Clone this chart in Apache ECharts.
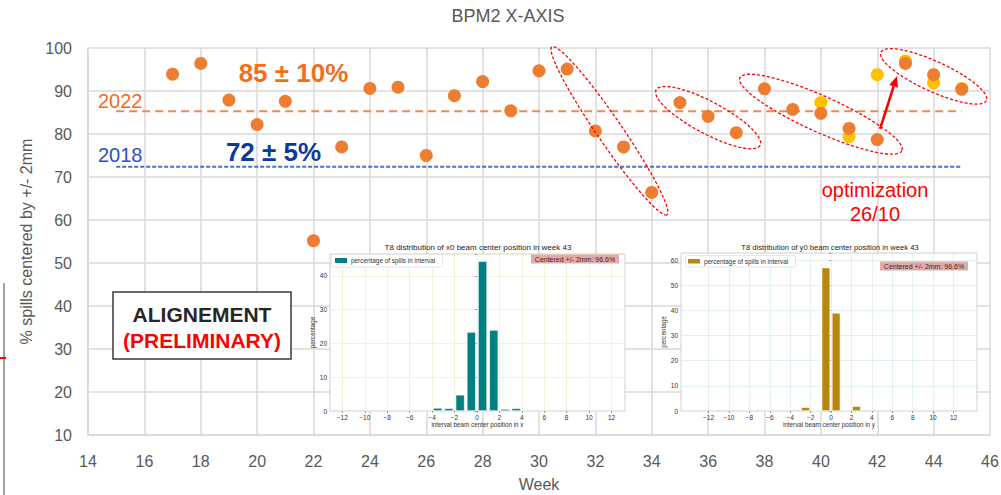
<!DOCTYPE html>
<html>
<head>
<meta charset="utf-8">
<script src="https://cdn.jsdelivr.net/npm/echarts@6/dist/echarts.min.js"></script>
<style>
  html, body { margin: 0; padding: 0; background: #fff; }
  #chart { width: 1001px; height: 495px; }
</style>
</head>
<body>
<div id="chart"></div>
<script>
// ---- Weekly share of spills centred within +/- 2 mm (BPM2, horizontal plane) ----
const weeks = [17, 18, 19, 20, 21, 22, 23, 24, 25, 26, 27, 28, 29, 30, 31,
               32, 33, 34, 35, 36, 37, 38, 39, 40, 41, 42, 43, 44, 45];
const centeredPct = [93.9, 96.4, 87.9, 82.2, 87.6, 55.2, 77.0, 90.6, 90.9, 75.0, 88.9, 92.2, 85.4, 94.7, 95.1,
                     80.7, 77.0, 66.4, 87.3, 84.1, 80.3, 90.5, 85.7, 84.8, 81.3, 78.7, 96.4, 93.8, 90.4];
// second set of measurements for the late weeks
const altWeeks = [40, 41, 42, 43, 44, 45];
const altPct = [87.3, 79.4, 93.8, 97.0, 91.9, 90.6];

// yearly averages drawn as dashed reference lines
const avg2022 = 85.3;
const avg2018 = 72.4;
const refWeeks = [15, 45];

// runs of weeks circled as groups, and the optimisation arrow (week, %)
const weekGroups = [[31, 34], [35, 37], [38, 42], [43, 45]];
const arrowFrom = [42.1, 81.2];
const arrowTo = [42.7, 93.5];

// ---- Week 43 beam-centre distributions (1 mm bins) ----
const xBinCenters = [-3.5, -2.5, -1.5, -0.5, 0.5, 1.5, 2.5, 3.5];
const xBinPct = [0.9, 0.8, 4.8, 23.4, 44.4, 24.0, 0.6, 0.8];
const yBinCenters = [-2.5, -1.5, -0.5, 0.5, 1.5, 2.5];
const yBinPct = [1.5, 0.3, 57.0, 39.0, 0.3, 1.9];
const histTicks = [-12, -10, -8, -6, -4, -2, 0, 2, 4, 6, 8, 10, 12];

const FONT = '"Liberation Sans", Arial, sans-serif';
const GRID_GRAY = '#D9D9D9';
const TEXT_GRAY = '#595959';

const chart = echarts.init(document.getElementById('chart'), null, { renderer: 'svg' });

function minusSign(v) { return String(v).replace('-', '\u2212'); }

function insetXAxis(gridIndex, min, max, name) {
  return {
    type: 'value', gridIndex, min, max, z: 4,
    name, nameLocation: 'middle', nameGap: 8,
    nameTextStyle: { fontSize: 6.3, color: '#333', fontFamily: FONT },
    axisLine: { show: false },
    axisTick: { show: true, length: 2, customValues: histTicks, lineStyle: { color: '#666', width: 0.6 } },
    axisLabel: { fontSize: 6.5, color: '#333', margin: 3, fontFamily: FONT,
                 customValues: histTicks, formatter: v => minusSign(v) },
    splitLine: { show: false }
  };
}

function insetYAxis(gridIndex, max, gridColor) {
  return {
    type: 'value', gridIndex, min: 0, max, interval: 10, z: 4,
    name: 'percentage', nameLocation: 'middle', nameGap: 11,
    nameTextStyle: { fontSize: 6.3, color: '#333', fontFamily: FONT },
    axisLine: { show: false },
    axisTick: { show: true, length: 2, lineStyle: { color: '#666', width: 0.6 } },
    axisLabel: {
      fontSize: 6.5, color: '#333', margin: 3, fontFamily: FONT,
      formatter: v => (Math.abs(v % 10) < 1e-9) ? String(v) : ''
    },
    splitLine: { show: true, lineStyle: { color: gridColor, width: 0.7 } }
  };
}

// vertical grid of a histogram, drawn under its bars
function insetVerticalGrid(axisIndex, gridColor) {
  return {
    type: 'line', xAxisIndex: axisIndex, yAxisIndex: axisIndex, z: 4, silent: true,
    data: [], symbol: 'none',
    markLine: {
      silent: true, symbol: 'none', label: { show: false },
      lineStyle: { color: gridColor, width: 0.7, type: 'solid' },
      data: histTicks.map(t => ({ xAxis: t }))
    }
  };
}

const option = {
  animation: false,
  backgroundColor: '#fff',
  textStyle: { fontFamily: FONT },
  grid: [
    { left: 88, right: 11, top: 48, bottom: 60, outerBoundsMode: 'none', containLabel: false },
    { left: 330, top: 254, width: 295, height: 157, show: true, backgroundColor: '#fff',
      borderColor: '#c4c4c4', borderWidth: 0.8, z: 3, outerBoundsMode: 'none' },
    { left: 681, top: 253, width: 296, height: 158, show: true, backgroundColor: '#fff',
      borderColor: '#c4c4c4', borderWidth: 0.8, z: 3, outerBoundsMode: 'none' }
  ],
  xAxis: [
    {
      type: 'value', gridIndex: 0, min: 14, max: 46, interval: 2,
      name: 'Week', nameLocation: 'middle', nameGap: 41,
      nameTextStyle: { fontSize: 16, color: TEXT_GRAY, fontFamily: FONT },
      axisLine: { show: true, lineStyle: { color: GRID_GRAY, width: 1.5 } },
      axisTick: { show: false },
      axisLabel: { fontSize: 16, color: TEXT_GRAY, margin: 18, fontFamily: FONT },
      splitLine: { show: true, lineStyle: { color: GRID_GRAY, width: 1.5 } }
    },
    insetXAxis(1, -13.1, 13.2, 'interval beam center position in x'),
    insetXAxis(2, -14.7, 14.3, 'interval beam center position in y')
  ],
  yAxis: [
    {
      type: 'value', gridIndex: 0, min: 10, max: 100, interval: 10,
      name: '% spills centered by +/- 2mm', nameLocation: 'middle', nameGap: 45,
      nameTextStyle: { fontSize: 16, color: TEXT_GRAY, fontFamily: FONT },
      axisLine: { show: true, lineStyle: { color: GRID_GRAY, width: 1.5 } },
      axisTick: { show: false },
      axisLabel: { fontSize: 16, color: TEXT_GRAY, margin: 16, fontFamily: FONT },
      splitLine: { show: true, lineStyle: { color: GRID_GRAY, width: 1.5 } }
    },
    insetYAxis(1, 46.5, '#EFE9C9'),
    insetYAxis(2, 62.8, '#D6EBEB')
  ],
  series: [
    {
      name: '2022 average', type: 'line', xAxisIndex: 0, yAxisIndex: 0, z: 1,
      data: refWeeks.map(w => [w, avg2022]), symbol: 'none', silent: true,
      lineStyle: { color: '#F0894A', width: 2, type: [8, 5] }
    },
    {
      name: '2018 average', type: 'line', xAxisIndex: 0, yAxisIndex: 0, z: 1,
      data: refWeeks.map(w => [w, avg2018]), symbol: 'none', silent: true,
      lineStyle: { color: '#4472C4', width: 2, type: [4, 2] }
    },
    {
      name: 'second measurement', type: 'scatter', xAxisIndex: 0, yAxisIndex: 0, z: 2,
      data: altWeeks.map((w, i) => [w, altPct[i]]), symbolSize: 13,
      itemStyle: { color: '#FFC000', opacity: 1 }
    },
    {
      name: 'centered spills', type: 'scatter', xAxisIndex: 0, yAxisIndex: 0, z: 3,
      data: weeks.map((w, i) => [w, centeredPct[i]]), symbolSize: 13,
      itemStyle: { color: '#ED7D31', opacity: 1 }
    },
    insetVerticalGrid(1, '#EFE9C9'),
    insetVerticalGrid(2, '#D6EBEB'),
    {
      name: 'percentage of spills in interval', type: 'bar', xAxisIndex: 1, yAxisIndex: 1, z: 5,
      data: xBinCenters.map((c, i) => [c, xBinPct[i]]), barWidth: 9,
      itemStyle: { color: '#008080', borderColor: '#fff', borderWidth: 0.6 }
    },
    {
      name: 'percentage of spills in interval', type: 'bar', xAxisIndex: 2, yAxisIndex: 2, z: 5,
      data: yBinCenters.map((c, i) => [c, yBinPct[i]]), barWidth: 8.5,
      itemStyle: { color: '#B8860B', borderColor: '#fff', borderWidth: 0.6 }
    }
  ]
};

chart.setOption(option);

// ---- annotations placed from data coordinates ----
const toPx = p => chart.convertToPixel({ xAxisIndex: 0, yAxisIndex: 0 }, p);

function text(x, y, str, font, fill, align, extra) {
  return Object.assign({
    type: 'text', x, y, z: 20,
    style: { text: str, font, fill, align: align || 'center', verticalAlign: 'middle',
             textAlign: align || 'center', textVerticalAlign: 'middle' }
  }, extra || {});
}

const groupRadii = [12.5, 16, 18, 15];
const ellipses = weekGroups.map((g, k) => {
  const a = toPx([g[0], centeredPct[weeks.indexOf(g[0])]]);
  const b = toPx([g[1], centeredPct[weeks.indexOf(g[1])]]);
  const dx = b[0] - a[0], dy = b[1] - a[1];
  const len = Math.hypot(dx, dy);
  const ux = dx / len, uy = dy / len;
  const vx = -uy, vy = ux;
  const cx = (a[0] + b[0]) / 2, cy = (a[1] + b[1]) / 2;
  const ra = len / 2 + 27, rb = groupRadii[k];
  const pts = [];
  for (let i = 0; i < 96; i++) {
    const t = i / 96 * Math.PI * 2;
    const ca = Math.cos(t) * ra, sb = Math.sin(t) * rb;
    pts.push([cx + ca * ux + sb * vx, cy + ca * uy + sb * vy]);
  }
  return {
    type: 'polygon', z: 15, silent: true,
    shape: { points: pts },
    style: { fill: 'none', stroke: '#FF0000', lineWidth: 1.3, lineDash: [3, 2] }
  };
});

const tail = toPx(arrowFrom), head = toPx(arrowTo);
const adx = head[0] - tail[0], ady = head[1] - tail[1];
const alen = Math.hypot(adx, ady);
const aux = adx / alen, auy = ady / alen;
const base = [head[0] - aux * 11, head[1] - auy * 11];
const arrow = [
  { type: 'line', z: 16, silent: true,
    shape: { x1: tail[0], y1: tail[1], x2: base[0], y2: base[1] },
    style: { stroke: '#FF0000', lineWidth: 2.6 } },
  { type: 'polygon', z: 16, silent: true,
    shape: { points: [head, [base[0] - auy * 4.5, base[1] + aux * 4.5], [base[0] + auy * 4.5, base[1] - aux * 4.5]] },
    style: { fill: '#FF0000' } }
];

const graphics = [
  // main title
  text(508, 16, 'BPM2 X-AXIS', '18px ' + FONT, TEXT_GRAY),
  // averages
  text(293.5, 73, '85 \u00B1 10%', 'bold 26px ' + FONT, '#F26E1F'),
  text(273.5, 152, '72 \u00B1 5%', 'bold 26px ' + FONT, '#0B3A9F'),
  text(98, 101, '2022', '20px ' + FONT, '#F26B1D', 'left'),
  text(98, 155, '2018', '20px ' + FONT, '#2A52BE', 'left'),
  // optimisation note
  text(875, 190, 'optimization', '20px ' + FONT, '#FF0000'),
  text(875, 214, '26/10', '20px ' + FONT, '#FF0000'),
  // status box
  { type: 'rect', z: 18, silent: true, shape: { x: 113, y: 292, width: 178, height: 67 },
    style: { fill: '#fff', stroke: '#3a3a3a', lineWidth: 1.5 } },
  text(202, 314, 'ALIGNEMENT', 'bold 21px ' + FONT, '#262626'),
  text(202, 340, '(PRELIMINARY)', 'bold 21px ' + FONT, '#FF0000'),
  // slide edge marker
  { type: 'line', z: 18, silent: true, shape: { x1: 4, y1: 283, x2: 4, y2: 495 },
    style: { stroke: '#8C8270', lineWidth: 1.5 } },
  { type: 'line', z: 19, silent: true, shape: { x1: 0, y1: 358, x2: 6, y2: 358 },
    style: { stroke: '#FF0000', lineWidth: 2 } },
  // histogram titles
  text(478, 247, 'T8 distribution of x0 beam center position in week 43', '8px ' + FONT, '#222'),
  text(830, 247.5, 'T8 distribution of y0 beam center position in week 43', '7.6px ' + FONT, '#222'),
  // histogram legends
  { type: 'rect', z: 18, silent: true, shape: { x: 331.5, y: 254.5, width: 111, height: 12.5, r: 1.5 },
    style: { fill: '#fff', stroke: '#dcdcdc', lineWidth: 0.7 } },
  { type: 'rect', z: 19, silent: true, shape: { x: 335, y: 258, width: 12, height: 5 },
    style: { fill: '#008080' } },
  text(351, 260.7, 'percentage of spills in interval', '6.4px ' + FONT, '#333', 'left'),
  { type: 'rect', z: 18, silent: true, shape: { x: 685.5, y: 255.5, width: 110, height: 11.5, r: 1.5 },
    style: { fill: '#fff', stroke: '#dcdcdc', lineWidth: 0.7 } },
  { type: 'rect', z: 19, silent: true, shape: { x: 688, y: 259, width: 12, height: 4.5 },
    style: { fill: '#B8860B' } },
  text(704, 261.3, 'percentage of spills in interval', '6.4px ' + FONT, '#333', 'left'),
  // centred fraction labels
  { type: 'rect', z: 18, silent: true, shape: { x: 531, y: 254.5, width: 88, height: 9 },
    style: { fill: '#E2AAAA' } },
  text(575, 259.2, 'Centered +/- 2mm: 96.6%', '7px ' + FONT, '#3a2a2a'),
  { type: 'rect', z: 18, silent: true, shape: { x: 880, y: 261.5, width: 88, height: 9 },
    style: { fill: '#E2AAAA' } },
  text(924, 266.2, 'Centered +/- 2mm: 96.6%', '7px ' + FONT, '#3a2a2a')
].concat(ellipses, arrow);

chart.setOption({ graphic: { elements: graphics } });
</script>
</body>
</html>
